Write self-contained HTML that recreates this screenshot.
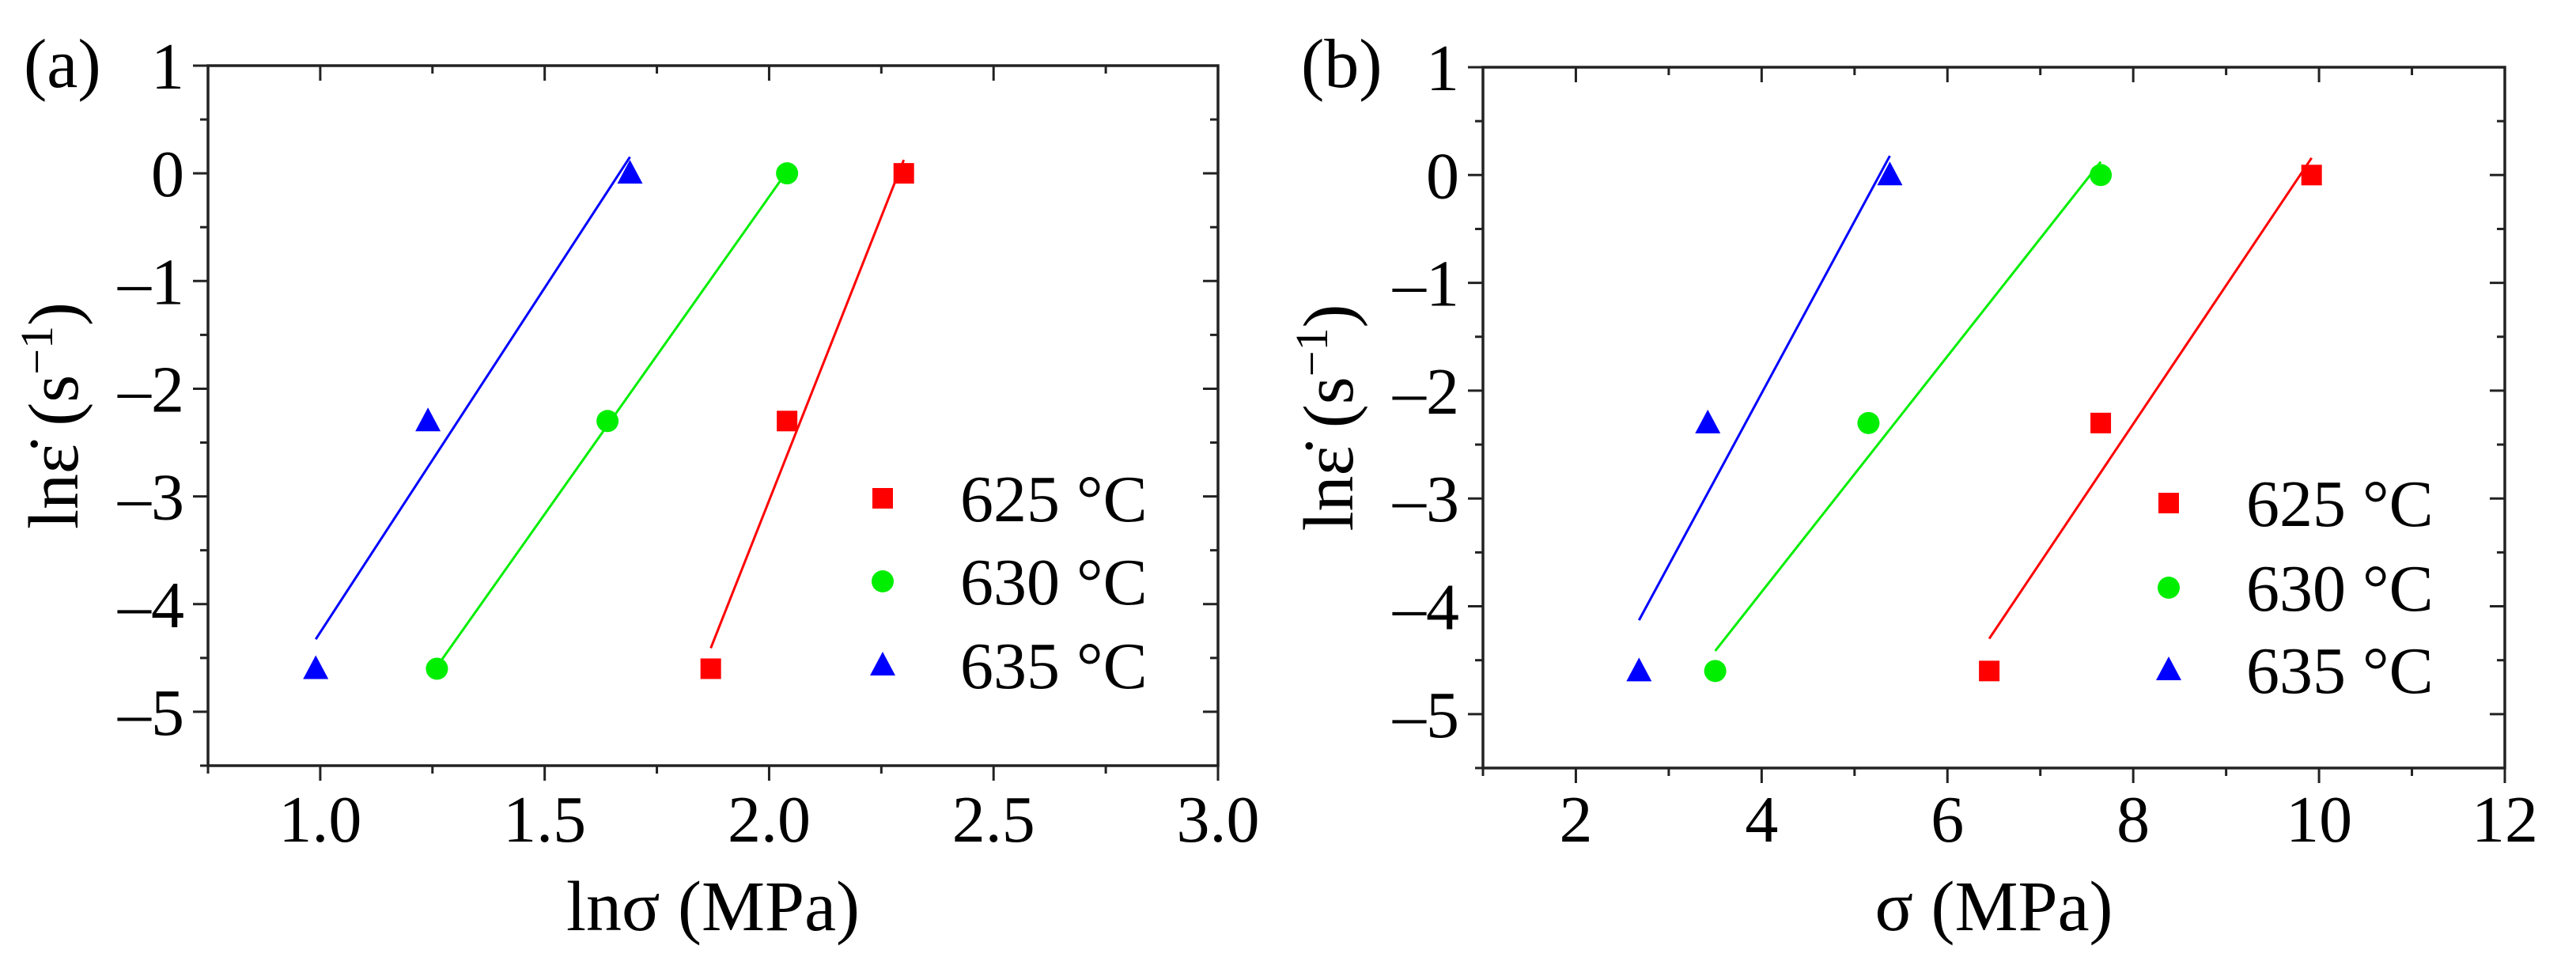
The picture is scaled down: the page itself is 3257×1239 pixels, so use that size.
<!DOCTYPE html>
<html><head><meta charset="utf-8"><style>
html,body{margin:0;padding:0;background:#fff}
svg{display:block}
text{font-family:"Liberation Serif","DejaVu Serif",serif;fill:#000}
</style></head><body>
<svg id="fig" width="3257" height="1239" viewBox="0 0 3257 1239" xmlns="http://www.w3.org/2000/svg" font-family="Liberation Serif, serif"></svg>
<script>
const temps = ["625 °C","630 °C","635 °C"];
const colors = ["#ff0000","#00ee00","#0000ff"];
const yVals = [-4.6,-2.3,0];
const lnSigma625 = [1.87,2.04,2.30];
const lnSigma630 = [1.26,1.64,2.04];
const lnSigma635 = [0.99,1.24,1.69];
const sigma625 = [6.45,7.65,9.92];
const sigma630 = [3.50,5.15,7.65];
const sigma635 = [2.68,3.42,5.38];
const xTicksA = [1.0,1.5,2.0,2.5,3.0];
const xTicksB = [2,4,6,8,10,12];
const yTicks = [1,0,-1,-2,-3,-4,-5];

const NS="http://www.w3.org/2000/svg";
const svg=document.getElementById('fig');
function mk(tag,attrs,parent){const e=document.createElementNS(NS,tag);for(const k in attrs)e.setAttribute(k,attrs[k]);(parent||svg).appendChild(e);return e;}

function panel(cfg){
  const g=mk('g',{});
  
  
  const X=v=>cfg.L+(v-cfg.xmin)/(cfg.xmax-cfg.xmin)*(cfg.R-cfg.L);
  const Y=v=>cfg.T+(1-v)/6.5*(cfg.B-cfg.T);
  const fr=mk('rect',{x:cfg.L,y:cfg.T,width:cfg.R-cfg.L,height:cfg.B-cfg.T,fill:'none',stroke:'#222','stroke-width':3.5},g);
  
  
  const step=cfg.xstep/2;
  for(let v=cfg.xmin;v<=cfg.xmax+1e-9;v+=step){
    const major=cfg.xTicks.some(t=>Math.abs(t-v)<1e-6);
    const len=major?19:10;
    mk('line',{x1:X(v),x2:X(v),y1:cfg.B,y2:cfg.B+len,stroke:'#222','stroke-width':3},g);
    mk('line',{x1:X(v),x2:X(v),y1:cfg.T,y2:cfg.T+len,stroke:'#222','stroke-width':3},g);
  }
  cfg.xTicks.forEach(t=>{
    const tx=mk('text',{x:X(t),y:1064,'font-size':84,'text-anchor':'middle','font-family':'Liberation Serif, serif'},g);
    tx.textContent=cfg.fmt(t);
    
    
  });
  for(let v=1;v>=-5.5-1e-9;v-=0.5){
    const major=Math.abs(v-Math.round(v))<1e-6;
    const len=major?19:10;
    mk('line',{x1:cfg.L-len,x2:cfg.L,y1:Y(v),y2:Y(v),stroke:'#222','stroke-width':3},g);
    mk('line',{x1:cfg.R-len,x2:cfg.R,y1:Y(v),y2:Y(v),stroke:'#222','stroke-width':3},g);
  }
  yTicks.forEach(t=>{
    const tx=mk('text',{x:cfg.L-30,y:Y(t)+29,'font-size':84,'text-anchor':'end','font-family':'Liberation Serif, serif'},g);
    tx.textContent=t<0?'\u2013'+Math.abs(t):String(t);
    
    
  });
  const xt=mk('text',{x:(cfg.L+cfg.R)/2,y:1176,'font-size':90,'text-anchor':'middle','font-family':'Liberation Serif, serif'},g);
  xt.textContent=cfg.xtitle;
  
  
  const yt=mk('text',{x:0,y:0,'font-size':90,'text-anchor':'middle','font-family':'Liberation Serif, serif',transform:`translate(${cfg.L-165},${(cfg.T+cfg.B)/2}) rotate(-90)`},g);
  yt.innerHTML='ln\u03B5\u0307 (s<tspan baseline-shift="super" font-size="58">\u22121</tspan>)';
  
  
  const pl=mk('text',{x:cfg.plx,y:110,'font-size':88,'font-family':'Liberation Serif, serif'},g);
  pl.textContent=cfg.label;
  
  
  cfg.series.forEach((xs,i)=>{
    const n=xs.length,mx=xs.reduce((a,b)=>a+b)/n,my=yVals.reduce((a,b)=>a+b)/n;
    let sxx=0,sxy=0;xs.forEach((x,j)=>{sxx+=(x-mx)**2;sxy+=(x-mx)*(yVals[j]-my);});
    const s=sxy/sxx,b=my-s*mx;
    const x0=Math.min(...xs),x1=Math.max(...xs);
    const ln=mk('line',{x1:X(x0),y1:Y(s*x0+b),x2:X(x1),y2:Y(s*x1+b),stroke:colors[i],'stroke-width':3},g);
    
    
    xs.forEach((x,j)=>{
      const m=marker(i,X(x),Y(yVals[j]),g);
      
      
    });
    const lm=marker(i,cfg.legX,cfg.legY[i],g);
    
    
    const lt=mk('text',{x:cfg.legX+98,y:cfg.legY[i]+29,'font-size':84,'font-family':'Liberation Serif, serif'},g);
    lt.textContent=temps[i];
    
    
  });
}
function marker(i,x,y,g){
  if(i===0) return mk('rect',{x:x-13,y:y-13,width:26,height:26,fill:colors[0]},g);
  if(i===1) return mk('circle',{cx:x,cy:y,r:14,fill:colors[1]},g);
  return mk('polygon',{points:`${x},${y-17} ${x-16},${y+13} ${x+16},${y+13}`,fill:colors[2]},g);
}
panel({name:'panel-a',L:263,R:1540,T:83,B:968,xmin:0.75,xmax:3.0,xstep:0.5,xTicks:xTicksA,fmt:t=>t.toFixed(1),
  xtitle:'ln\u03C3 (MPa)',label:'(a)',plx:30,series:[lnSigma625,lnSigma630,lnSigma635],legX:1116,legY:[630,735,841]});
panel({name:'panel-b',L:1875,R:3167,T:85,B:971,xmin:1,xmax:12,xstep:2,xTicks:xTicksB,fmt:t=>String(t),
  xtitle:'\u03C3 (MPa)',label:'(b)',plx:1645,series:[sigma625,sigma630,sigma635],legX:2742,legY:[636,743,847]});
</script>
</body></html>
